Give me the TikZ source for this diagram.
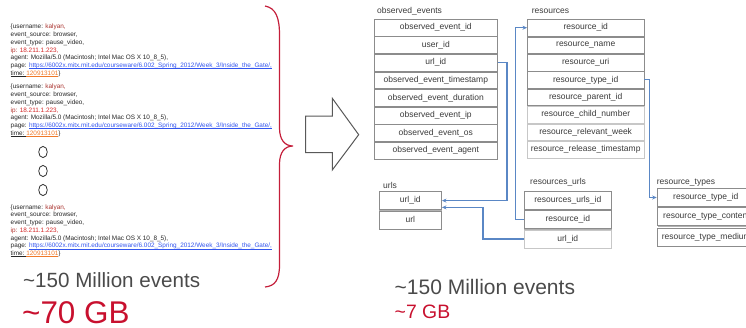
\documentclass[tikz,border=0pt]{standalone}
\usepackage{fontspec}
\setmainfont{Liberation Sans}
\usetikzlibrary{shadows,arrows.meta}
\definecolor{txt}{HTML}{3A3A3A}
\definecolor{gtxt}{HTML}{4A4A4A}
\definecolor{bigred}{HTML}{C8102E}
\definecolor{kal}{HTML}{A8322D}
\definecolor{ipc}{HTML}{B0302A}
\definecolor{ipv}{HTML}{D42A2A}
\definecolor{urlc}{HTML}{3355EE}
\definecolor{timec}{HTML}{F07A2A}
\definecolor{bracec}{HTML}{C41E3A}
\definecolor{connc}{HTML}{5A87C5}
\newcommand{\ulx}[1]{\setbox0\hbox{#1}\rlap{\rule[-0.9pt]{\wd0}{0.35pt}}\box0}
\newcommand{\evblock}{%
\{username: \textcolor{kal}{kalyan,}\\
event\_source: browser,\\
event\_type: pause\_video,\\
\textcolor{ipc}{ip: }\textcolor{ipv}{18.211.1.223,}\\
agent: Mozilla/5.0 (Macintosh; Intel Mac OS X 10\_8\_5),\\
page: \textcolor{urlc}{\ulx{https://6002x.mitx.mit.edu/courseware/6.002\_Spring\_2012/Week\_3/Inside\_the\_Gate/,}}\\
\ulx{time:~}\textcolor{timec}{\ulx{120913101}}\}}
\tikzset{
  evtext/.style={font=\fontsize{6.4}{7.75}\selectfont, align=left, inner sep=0pt, text=black!85, anchor=north west},
  rowbase/.style={rectangle, fill=white, line width=0.6pt, inner sep=0pt, font=\fontsize{8.5}{10}\selectfont, text=txt},
  rowbox/.style={rowbase, draw=black!45, drop shadow={shadow xshift=0.5pt, shadow yshift=-0.9pt, opacity=0.3, fill=black}},
  rowlite/.style={rowbase, draw=black!22},
  rowtext/.style={inner sep=0pt, font=\fontsize{8.5}{10}\selectfont, text=txt},
  tlabel/.style={inner sep=0pt, anchor=west, font=\fontsize{8.5}{10}\selectfont, text=txt},
  conn/.style={draw=connc, line width=1.1pt, -{Stealth[length=4.5pt,width=4pt]}},
  ring/.style={draw=black!80, line width=0.8pt},
}
\begin{document}
\begin{tikzpicture}[x=1pt,y=-1pt]
\useasboundingbox (0,0) rectangle (746,327);
\clip (0,0) rectangle (746,327);
% left raw events
\node[evtext] (ev1) at (10.5,24.0) {\evblock};
\node[evtext] (ev2) at (10.5,84.0) {\evblock};
\node[evtext] (ev3) at (10.5,204.4) {\evblock};
\draw[ring] (43,152) ellipse [x radius=4.3, y radius=5.6];
\draw[ring] (43,171) ellipse [x radius=4.3, y radius=5.6];
\draw[ring] (43,190) ellipse [x radius=4.3, y radius=5.6];
% brace
\draw[bracec, line width=1.2pt] (265,6) .. controls (276,8) and (279.5,18) .. (279.5,35) -- (279.5,128) .. controls (279.5,140) and (285,146) .. (293,146) .. controls (285,146) and (279.5,152) .. (279.5,164) -- (279.5,265) .. controls (279.5,280) and (275,286) .. (265,287);
\node[anchor=west, inner sep=0pt, font=\fontsize{20.6}{24}\selectfont, text=gtxt] (l150) at (23,280) {\textasciitilde150 Million events};
\node[anchor=west, inner sep=0pt, font=\fontsize{31.4}{36}\selectfont, text=bigred] (l70) at (22,312.5) {\textasciitilde70 GB};
% block arrow
\draw[black!65, line width=1pt, fill=white] (305.7,116) -- (332.3,116) -- (332.3,98.3) -- (358.7,134.7) -- (332.3,170) -- (332.3,152.7) -- (305.7,152.7) -- cycle;
% observed_events
\node[tlabel] (oel) at (377,11.7) {observed\_events};
\foreach \i/\t in {1/observed\_event\_id, 2/user\_id, 3/url\_id, 4/observed\_event\_timestamp, 5/observed\_event\_duration, 6/observed\_event\_ip, 7/observed\_event\_os, 8/observed\_event\_agent}
  \node[rowbox, minimum width=123pt, minimum height=16.8pt] (oe\i) at (435.8,{9.9+17.6*\i}) {\t};
% resources
\node[tlabel] (rsl) at (531.7,11.2) {resources};
\foreach \i/\t in {1/resource\_id, 2/resource\_name, 3/resource\_uri, 4/resource\_type\_id, 5/resource\_parent\_id}
  \node[rowbox, minimum width=116.7pt, minimum height=16.6pt] (rs\i) at (585.7,{10.3+17.4*\i}) {\t};
\foreach \i/\t in {6/resource\_child\_number, 7/resource\_relevant\_week, 8/resource\_release\_timestamp}
  \node[rowlite, minimum width=116.7pt, minimum height=16.6pt] (rs\i) at (585.7,{10.3+17.4*\i}) {\t};
% urls
\node[tlabel] (url) at (383,185) {urls};
\node[rowbox, minimum width=62.7pt, minimum height=18pt] (ur1) at (410.3,200.6) {url\_id};
\node[rowbox, minimum width=62.7pt, minimum height=18pt] (ur2) at (410.3,219.9) {url};
% resources_urls
\node[tlabel] (rul) at (530,182.7) {resources\_urls};
\node[rowbox, minimum width=87.7pt, minimum height=18.4pt] (ru1) at (567.8,200) {resources\_urls\_id};
\node[rowbox, minimum width=87.7pt, minimum height=18.4pt] (ru2) at (567.8,219.4) {resource\_id};
\node[rowlite, minimum width=87.7pt, minimum height=18.4pt] (ru3) at (567.8,239) {url\_id};
% resource_types
\node[tlabel] (rtl) at (656.7,182.7) {resource\_types};
\node[rowbox, minimum width=110pt, minimum height=17.5pt, anchor=west] (rt1) at (656.7,197.5) {};
\node[rowbox, minimum width=110pt, minimum height=18pt, anchor=west] (rt2) at (656.7,216.6) {};
\node[rowbox, minimum width=110pt, minimum height=18pt, anchor=west] (rt3) at (656.7,236.8) {};
\node[rowtext, anchor=west] (rt1t) at (673,197.5) {resource\_type\_id};
\node[rowtext, anchor=west] (rt2t) at (663,216.6) {resource\_type\_content};
\node[rowtext, anchor=west] (rt3t) at (661.7,236.8) {resource\_type\_medium};
% connectors
\draw[conn] (oe3.east) -- ++(9.4,0) |- (ur1.east);
\draw[conn] (ru2.west) -- ++(-8.3,0) |- (rs1.west);
\draw[conn] (ru3.west) -- ++(-40.7,0) |- ([yshift=-6.8pt]ur1.east);
\draw[conn] (rs4.east) -- ++(5.5,0) |- (rt1.west);
% right totals
\node[anchor=west, inner sep=0pt, font=\fontsize{21}{24}\selectfont, text=gtxt] (r150) at (394.5,286.7) {\textasciitilde150 Million events};
\node[anchor=west, inner sep=0pt, font=\fontsize{19.4}{22}\selectfont, text=bigred] (r7) at (394.5,311.7) {\textasciitilde7 GB};
\end{tikzpicture}
\end{document}
